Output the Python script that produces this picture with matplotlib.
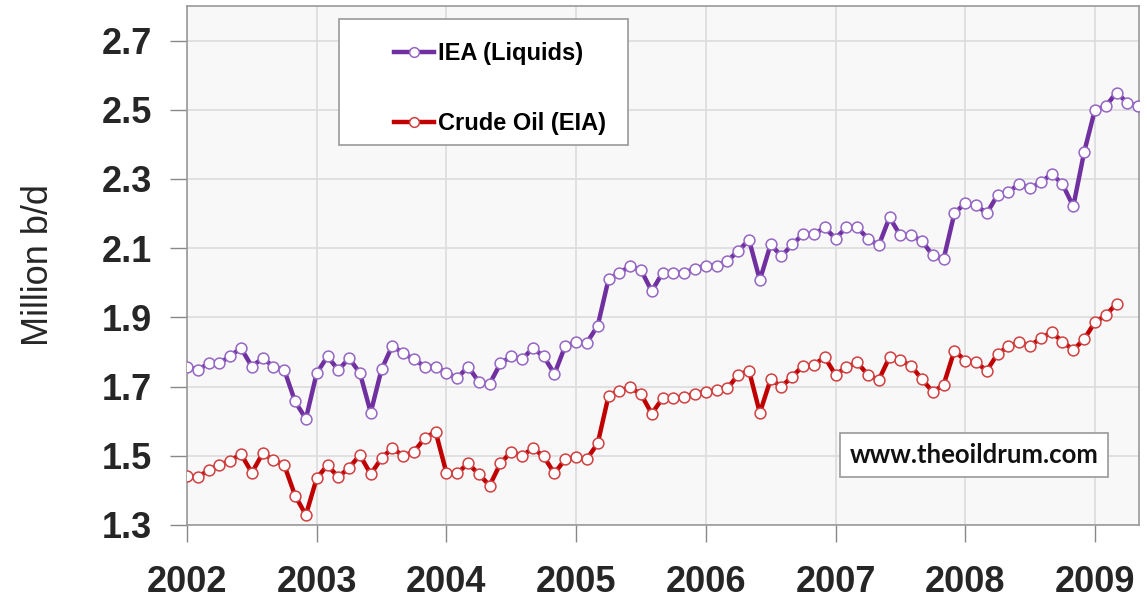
import matplotlib
matplotlib.use("Agg")
import matplotlib.pyplot as plt
from matplotlib.patches import Rectangle
import numpy as np

# Monthly data starting Jan 2002
iea_liquids = [
    1.758, 1.748, 1.767, 1.767, 1.789, 1.811, 1.758, 1.782, 1.758, 1.748, 1.657, 1.607,  # 2002
    1.739, 1.787, 1.748, 1.782, 1.739, 1.625, 1.750, 1.818, 1.796, 1.779, 1.758, 1.758,  # 2003
    1.739, 1.724, 1.758, 1.714, 1.708, 1.767, 1.787, 1.779, 1.811, 1.787, 1.737, 1.818,  # 2004
    1.828, 1.827, 1.876, 2.010, 2.029, 2.048, 2.037, 1.976, 2.029, 2.029, 2.029, 2.041,  # 2005
    2.050, 2.050, 2.063, 2.092, 2.124, 2.008, 2.111, 2.077, 2.111, 2.140, 2.140, 2.160,  # 2006
    2.128, 2.160, 2.160, 2.128, 2.108, 2.189, 2.137, 2.137, 2.121, 2.079, 2.068, 2.201,  # 2007
    2.230, 2.224, 2.201, 2.254, 2.263, 2.285, 2.273, 2.290, 2.315, 2.285, 2.221, 2.377,  # 2008
    2.500, 2.510, 2.550, 2.520, 2.510,                                                    # 2009
]
crude_oil_eia = [
    1.442, 1.438, 1.459, 1.473, 1.486, 1.505, 1.451, 1.507, 1.488, 1.473, 1.385, 1.329,  # 2002
    1.435, 1.473, 1.438, 1.466, 1.502, 1.447, 1.493, 1.522, 1.500, 1.512, 1.551, 1.570,  # 2003
    1.451, 1.449, 1.478, 1.447, 1.414, 1.478, 1.512, 1.500, 1.522, 1.498, 1.449, 1.491,  # 2004
    1.496, 1.491, 1.536, 1.673, 1.688, 1.698, 1.678, 1.622, 1.666, 1.666, 1.671, 1.680,  # 2005
    1.685, 1.690, 1.695, 1.734, 1.746, 1.624, 1.721, 1.700, 1.729, 1.760, 1.763, 1.785,  # 2006
    1.734, 1.756, 1.770, 1.734, 1.719, 1.785, 1.776, 1.760, 1.721, 1.685, 1.705, 1.804,  # 2007
    1.775, 1.770, 1.746, 1.795, 1.816, 1.828, 1.818, 1.840, 1.857, 1.830, 1.806, 1.837,  # 2008
    1.886, 1.906, 1.940,                                                                  # 2009
]
year_ticks = [2002, 2003, 2004, 2005, 2006, 2007, 2008, 2009]
y_ticks = [1.3, 1.5, 1.7, 1.9, 2.1, 2.3, 2.5, 2.7]
series_labels = ["IEA (Liquids)", "Crude Oil (EIA)"]

x_iea = 2002 + np.arange(len(iea_liquids)) / 12.0
x_crude = 2002 + np.arange(len(crude_oil_eia)) / 12.0

plt.rcParams['font.family'] = ['Liberation Sans', 'DejaVu Sans']

W, H = 1147, 609
AX_L, AX_R, AX_T, AX_B = 187, 1139, 6, 525
fig = plt.figure(figsize=(W / 100, H / 100), dpi=100)
ax = fig.add_axes([AX_L / W, (H - AX_B) / H, (AX_R - AX_L) / W, (AX_B - AX_T) / H])
ax.set_facecolor('#f8f8f8')

def ax_frac(px, py):
    return (px - AX_L) / (AX_R - AX_L), (AX_B - py) / (AX_B - AX_T)

purple = '#7030A0'
red = '#C00000'
ax.plot(x_iea, iea_liquids, color=purple, lw=3.2, marker='o', ms=7.8,
        mfc='white', mec='#9566c4', mew=1.1, label=series_labels[0], zorder=3)
ax.plot(x_crude, crude_oil_eia, color=red, lw=3.2, marker='o', ms=7.8,
        mfc='white', mec='#d04040', mew=1.1, label=series_labels[1], zorder=3)

ax.set_xlim(2002, 2009.34)
ax.set_ylim(1.3, 2.8)
ax.set_xticks(year_ticks)
ax.set_xticklabels([str(y) for y in year_ticks], fontsize=26, fontweight='bold', color='#262626')
ax.set_yticks(y_ticks)
ax.set_yticklabels([f"{v:.1f}" for v in y_ticks], fontsize=26, fontweight='bold', color='#262626')
ax.tick_params(axis='both', direction='out', length=12, width=1, color='#888888')
ax.tick_params(axis='x', pad=17)
ax.tick_params(axis='y', pad=13)
ax.grid(True, color='#dcdcdc', lw=1.2, zorder=0)
for s in ax.spines.values():
    s.set_color('#999999')
    s.set_linewidth(1.2)

ax.set_ylabel('Million b/d', fontsize=26, color='#262626', labelpad=33)

# legend box
lx0, ly0 = ax_frac(339, 145)
lx1, ly1 = ax_frac(628, 19)
ax.add_patch(Rectangle((lx0, ly0), lx1 - lx0, ly1 - ly0, transform=ax.transAxes,
                       fc='white', ec='#999999', lw=1.2, zorder=5))
leg = ax.legend(loc='upper left', bbox_to_anchor=ax_frac(394, 42),
                frameon=False, prop={'weight': 'bold', 'size': 17},
                handlelength=1.7, labelspacing=2.0, borderpad=0, handletextpad=0.15,
                borderaxespad=0)
leg.set_zorder(6)
for line in leg.get_lines():
    line.set_markersize(7)

wx, wy = ax_frac(974, 455)
ax.text(wx, wy, 'www.theoildrum.com', transform=ax.transAxes, fontsize=18.5,
        fontweight='bold', color='#111111', family=['Lato', 'DejaVu Sans'],
        ha='center', va='center', zorder=6,
        bbox=dict(boxstyle='square,pad=0.38', fc='white', ec='#999999', lw=1.2))

fig.savefig('out.png', dpi=100)
